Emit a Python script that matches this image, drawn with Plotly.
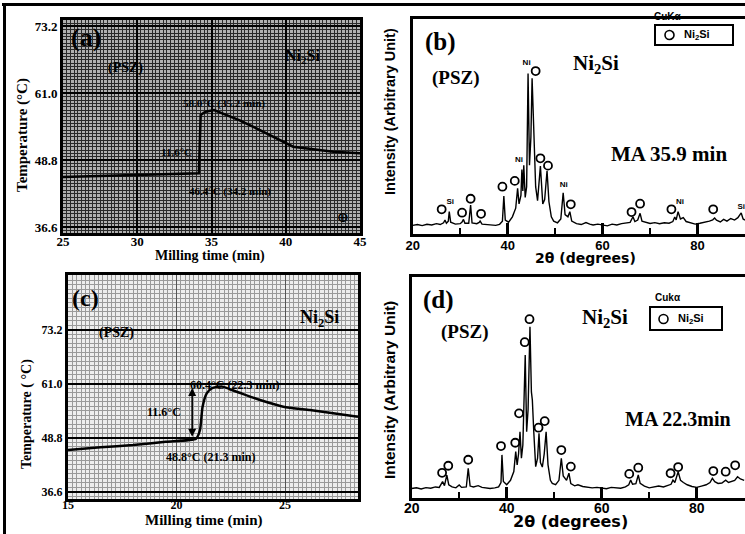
import plotly.graph_objects as go

# ---------------- data ----------------
# (a) temperature trace, PSZ run
a_time = [25.0, 27.5, 30.0, 32.0, 34.15, 34.27, 34.6, 35.17, 36.86, 38.7, 40.5, 43.2, 45.0]
a_temp = [45.74, 45.92, 46.1, 46.25, 46.41, 57.04, 57.64, 57.95, 56.13, 53.71, 51.26, 50.35, 50.06]

# (c) temperature trace
c_time = [15.0, 16.5, 18.0, 19.5, 20.9, 21.08, 21.2, 21.39, 21.62, 22.1, 22.77, 23.85, 24.92, 26.15, 27.3, 28.36]
c_temp = [46.03, 46.64, 47.16, 47.9, 48.6, 50.55, 55.8, 58.84, 59.97, 60.35, 59.2, 57.33, 55.82, 55.07, 54.3, 53.56]

temp_ticks = [36.6, 48.8, 61.0, 73.2]
a_time_ticks = [25, 30, 35, 40, 45]
c_time_ticks = [15, 20, 25]

# (b) XRD pattern, MA 35.9 min
b_two_theta = [20.0, 21.0, 22.0, 23.0, 24.0, 25.0, 25.8, 26.5, 26.8, 27.1, 27.5, 27.7, 28.0, 29.0, 30.0,
               30.4, 30.7, 31.0, 31.8, 32.2, 32.5, 33.5, 34.0, 34.2, 34.6, 35.5, 36.5, 37.5, 38.3, 38.9,
               39.2, 39.5, 40.2, 41.0, 41.7, 42.1, 42.4, 42.8, 43.0, 43.2, 43.4, 43.7, 44.0, 44.3, 44.6,
               44.9, 45.15, 45.4, 45.6, 45.9, 46.3, 46.9, 47.4, 47.8, 48.3, 48.7, 49.2, 49.7, 50.5, 51.2,
               51.7, 52.1, 52.7, 53.1, 53.5, 54.5, 55.5, 56.5, 57.3, 58.0, 59.0, 60.0, 61.0, 62.0, 63.0,
               64.0, 65.0, 65.8, 66.4, 66.8, 67.4, 67.9, 68.3, 69.0, 70.0, 71.0, 72.0, 73.0, 74.0, 74.8,
               75.2, 75.5, 75.9, 76.4, 77.0, 77.6, 78.5, 79.5, 80.5, 81.5, 82.5, 83.2, 83.6, 84.0, 84.8,
               85.5, 86.2, 87.0, 87.8, 88.5, 89.2, 89.6, 90.0]
b_intensity = [4.0, 4.4, 3.9, 4.5, 4.2, 4.8, 4.4, 5.2, 6.5, 5.0, 6.0, 10.4, 5.5, 4.6, 4.8,
               5.6, 6.8, 5.0, 5.0, 13.5, 5.2, 4.8, 5.4, 6.0, 4.6, 4.4, 4.2, 4.0, 4.5, 6.0,
               17.7, 6.5, 5.5, 8.0, 12.0, 21.3, 14.0, 18.0, 30.0, 20.0, 32.0, 17.0, 22.0, 74.7, 32.0,
               45.0, 72.4, 52.0, 45.0, 22.0, 15.5, 31.6, 14.0, 16.0, 29.4, 15.0, 8.0, 6.0, 5.2, 7.0,
               19.2, 9.0, 8.0, 10.4, 6.0, 4.8, 4.4, 5.3, 4.6, 4.2, 4.6, 4.3, 3.8, 4.6, 4.2,
               4.8, 5.0, 5.4, 8.0, 5.8, 6.5, 9.6, 6.0, 5.4, 4.9, 5.3, 4.8, 5.2, 5.0, 5.8,
               7.9, 6.6, 10.4, 7.0, 7.6, 5.8, 5.2, 4.6, 5.0, 5.4, 6.0, 6.6, 7.4, 6.4, 5.6,
               6.8, 6.0, 7.2, 6.5, 7.6, 9.8, 7.0, 6.5]
b_ring_x = [26.1, 30.4, 32.2, 34.4, 38.9, 41.5, 45.9, 46.9, 48.5, 53.3, 66.1, 67.9, 74.5, 83.3]
b_ring_y = [11.5, 9.9, 16.4, 9.4, 22.0, 24.7, 75.8, 35.2, 31.8, 13.8, 10.2, 14.1, 11.5, 11.5]
b_phase_x = [27.9, 42.4, 44.0, 51.8, 76.3, 89.2]
b_phase_y = [15.0, 34.4, 79.7, 22.8, 14.9, 12.7]
b_phase_lbl = ["Si", "Ni", "Ni", "Ni", "Ni", "Si"]

# (d) XRD pattern, MA 22.3 min
d_two_theta = [20.0, 21.0, 22.0, 23.0, 24.0, 25.0, 25.8, 26.5, 26.9, 27.4, 27.8, 28.5, 29.3, 30.0, 30.5,
               31.5, 31.9, 32.3, 33.0, 34.0, 34.8, 35.5, 36.5, 37.5, 38.3, 38.8, 39.0, 39.3, 40.0, 40.8,
               41.5, 41.9, 42.2, 42.5, 42.8, 43.1, 43.4, 43.9, 44.2, 44.5, 44.9, 45.2, 45.4, 45.7, 46.1,
               46.5, 46.8, 47.1, 47.5, 47.9, 48.3, 48.7, 49.2, 49.6, 50.3, 51.0, 51.5, 51.9, 52.6, 53.1,
               53.5, 54.3, 55.0, 56.0, 57.0, 58.0, 59.0, 60.0, 61.0, 62.0, 63.0, 64.0, 65.0, 65.7, 66.1,
               66.5, 67.2, 67.7, 68.1, 69.0, 70.0, 71.0, 72.0, 73.0, 74.0, 74.6, 75.0, 75.4, 76.1, 76.6,
               77.2, 78.0, 79.0, 80.0, 81.0, 82.0, 82.8, 83.3, 83.8, 84.5, 85.3, 86.1, 86.7, 87.4, 88.0,
               88.6, 89.2, 90.0]
d_intensity = [4.3, 4.6, 4.1, 4.7, 4.4, 5.0, 4.8, 7.4, 5.6, 10.4, 6.0, 5.0, 4.6, 5.9, 4.8,
               5.0, 13.4, 5.4, 5.0, 5.6, 4.8, 4.6, 4.3, 4.6, 5.0, 7.0, 19.5, 7.5, 6.0, 8.0,
               12.0, 21.0, 15.0, 20.0, 30.0, 18.0, 24.0, 64.7, 30.0, 40.0, 77.5, 48.0, 44.3, 30.0, 14.2,
               18.0, 29.3, 16.0, 14.0, 20.0, 30.0, 15.0, 8.0, 6.6, 6.0, 8.0, 18.0, 10.0, 8.0, 11.2,
               6.5, 5.5, 6.0, 5.2, 5.0, 4.6, 4.8, 4.4, 4.2, 4.8, 4.6, 4.4, 5.0, 6.0, 8.1,
               6.2, 6.5, 10.4, 6.6, 5.4, 4.6, 5.0, 5.4, 5.0, 5.6, 6.2, 8.1, 7.0, 11.9, 8.0,
               7.0, 6.0, 5.2, 4.8, 5.4, 6.0, 7.0, 8.9, 7.4, 6.6, 6.8, 8.1, 7.0, 7.6, 8.0,
               9.6, 8.6, 8.0]
d_ring_x = [26.4, 27.7, 31.9, 38.8, 41.8, 42.6, 43.8, 44.8, 46.7, 48.0, 51.5, 53.5, 65.8, 67.7, 74.5, 76.1, 83.5, 86.1, 88.1]
d_ring_y = [11.4, 14.6, 17.3, 23.5, 25.0, 38.3, 70.5, 80.9, 31.8, 34.8, 21.7, 14.2, 10.9, 13.7, 11.2, 14.0, 12.2, 11.9, 14.8]

# ---------------- helpers ----------------
W, H = 745, 534
def fx(x):
    return x / W
def fy(y):
    return 1 - y / H

SERIF = "Liberation Serif"
SANS = "Liberation Sans"
WIDE = "DejaVu Sans"

fig = go.Figure()

fig.add_trace(go.Scatter(x=a_time, y=a_temp, mode="lines", line=dict(color="black", width=2.5),
                         xaxis="x", yaxis="y", hoverinfo="skip"))
fig.add_trace(go.Scatter(x=c_time, y=c_temp, mode="lines", line=dict(color="black", width=2.5, shape="spline", smoothing=0.6),
                         xaxis="x3", yaxis="y3", hoverinfo="skip"))

fig.add_trace(go.Scatter(x=b_two_theta, y=b_intensity, mode="lines", line=dict(color="black", width=1.4),
                         xaxis="x2", yaxis="y2"))
fig.add_trace(go.Scatter(x=b_ring_x, y=b_ring_y, mode="markers",
                         marker=dict(symbol="circle-open", size=8, color="black", line=dict(width=1.8)),
                         xaxis="x2", yaxis="y2"))
fig.add_trace(go.Scatter(x=b_phase_x, y=b_phase_y, mode="text", text=b_phase_lbl,
                         textfont=dict(family=SANS, size=8, color="black", weight="bold"),
                         xaxis="x2", yaxis="y2"))

fig.add_trace(go.Scatter(x=d_two_theta, y=d_intensity, mode="lines", line=dict(color="black", width=1.4),
                         xaxis="x4", yaxis="y4"))
fig.add_trace(go.Scatter(x=d_ring_x, y=d_ring_y, mode="markers",
                         marker=dict(symbol="circle-open", size=8, color="black", line=dict(width=1.8)),
                         xaxis="x4", yaxis="y4"))

serif_tick = dict(family=SERIF, size=13, color="black", weight="bold")
sans_tick = dict(family=SANS, size=13, color="black", weight="bold")

frame = dict(showline=True, mirror=True, linecolor="black", linewidth=3, zeroline=False, automargin=False)

layout = dict(
    template="none",
    width=W, height=H, margin=dict(l=0, r=0, t=0, b=0, pad=0), autosize=False,
    paper_bgcolor="white", plot_bgcolor="white", showlegend=False,
    # (a)
    xaxis=dict(domain=[fx(63), fx(360)], range=[25, 45], anchor="y", tickvals=a_time_ticks,
               ticks="", tickfont=serif_tick, ticklabelstandoff=-6,
               showgrid=True, gridcolor="black", gridwidth=2,
               minor=dict(tick0=25, dtick=0.25, showgrid=True, gridcolor="#2a2a2a", gridwidth=1), **frame),
    yaxis=dict(domain=[fy(233), fy(20)], range=[35.53, 74.37], anchor="x", tickvals=temp_ticks,
               tickformat=".1f", ticks="", tickfont=serif_tick, ticklabelstandoff=0,
               showgrid=True, gridcolor="black", gridwidth=2,
               minor=dict(tick0=36.6, dtick=0.61, showgrid=True, gridcolor="#2a2a2a", gridwidth=1), **frame),
    # (b)
    xaxis2=dict(domain=[fx(412.7), 1.0], range=[20, 90], anchor="y2", tick0=20, dtick=20,
                ticks="inside", ticklen=11, tickwidth=3, tickcolor="black",
                minor=dict(tick0=20, dtick=10, ticks="inside", ticklen=6, tickwidth=2, tickcolor="black"),
                tickfont=sans_tick, ticklabelstandoff=-3, showgrid=False, **frame),
    yaxis2=dict(domain=[fy(234), fy(19)], range=[0, 100], anchor="x2", showticklabels=False,
                ticks="", showgrid=False, **frame),
    # (c)
    xaxis3=dict(domain=[fx(68), fx(358)], range=[15, 28.36], anchor="y3", tickvals=c_time_ticks,
                ticks="", tickfont=dict(family=SERIF, size=12, color="black", weight="bold"), ticklabelstandoff=-7,
                showgrid=True, gridcolor="#555555", gridwidth=1,
                minor=dict(tick0=15, dtick=0.2, showgrid=True, gridcolor="#9a9a9a", gridwidth=1), **frame),
    yaxis3=dict(domain=[fy(499), fy(275)], range=[34.96, 85.57], anchor="x3", tickvals=temp_ticks,
                tickformat=".1f", ticks="", tickfont=dict(family=SERIF, size=12, color="black", weight="bold"),
                ticklabelstandoff=0, showgrid=True, gridcolor="black", gridwidth=2,
                minor=dict(tick0=36.6, dtick=1.0167, showgrid=True, gridcolor="#9a9a9a", gridwidth=1), **frame),
    # (d)
    xaxis4=dict(domain=[fx(411.7), 1.0], range=[20, 90.17], anchor="y4", tick0=20, dtick=20,
                ticks="inside", ticklen=11, tickwidth=3, tickcolor="black",
                minor=dict(tick0=20, dtick=10, ticks="inside", ticklen=6, tickwidth=2, tickcolor="black"),
                tickfont=dict(family=SANS, size=14, color="black", weight="bold"), ticklabelstandoff=-5,
                showgrid=False, **frame),
    yaxis4=dict(domain=[fy(498), fy(277)], range=[0, 100], anchor="x4", showticklabels=False,
                ticks="", showgrid=False, **frame),
)
fig.update_layout(**layout)

shapes = [
    # graph-paper backgrounds
    dict(type="rect", xref="x domain", yref="y domain", x0=0, x1=1, y0=0, y1=1,
         fillcolor="#b0b0b0", line=dict(width=0), layer="below"),
    dict(type="rect", xref="x3 domain", yref="y3 domain", x0=0, x1=1, y0=0, y1=1,
         fillcolor="#eeeeee", line=dict(width=0), layer="below"),
    # legend boxes
    dict(type="rect", xref="paper", yref="paper", x0=fx(655), x1=fx(733), y0=fy(45), y1=fy(25),
         line=dict(color="black", width=2), fillcolor="white"),
    dict(type="circle", xref="paper", yref="paper", x0=fx(665), x1=fx(674), y0=fy(39.5), y1=fy(30.5),
         line=dict(color="black", width=1.6)),
    dict(type="rect", xref="paper", yref="paper", x0=fx(650), x1=fx(722), y0=fy(330), y1=fy(307),
         line=dict(color="black", width=2), fillcolor="white"),
    dict(type="circle", xref="paper", yref="paper", x0=fx(659), x1=fx(668), y0=fy(323.5), y1=fy(314.5),
         line=dict(color="black", width=1.6)),
]
fig.update_layout(shapes=shapes)

def txt(x, y, s, size, family=SERIF, angle=0, color="black"):
    return dict(x=fx(x), y=fy(y), xref="paper", yref="paper", text="<b>" + s + "</b>", showarrow=False,
                font=dict(family=family, size=size, color=color), textangle=angle,
                xanchor="center", yanchor="middle")

# page border drawn as solid annotation boxes (top and left edges)
def bar(x0, y0, w, h):
    return dict(x=fx(x0), y=fy(y0), xref="paper", yref="paper", text=" ", showarrow=False,
                xanchor="left", yanchor="top", width=w, height=h, bgcolor="black",
                borderpad=0, borderwidth=0, font=dict(size=1))

ann = [
    bar(2, 3, 743, 3),
    bar(3, 3, 3, 531),
    # (a)
    txt(86, 38, "(a)", 26),
    txt(125, 68, "(PSZ)", 14),
    txt(302, 56, "Ni<sub>2</sub>Si", 16),
    txt(224, 103, "58.0°C (35.2 min)", 11),
    txt(176, 152, "11.6°C", 11),
    txt(230, 191, "46.4°C (34.2 min)", 11),
    txt(343, 217, "⊕", 14, family="DejaVu Sans"),
    txt(22, 135, "Temperature (°C)", 15, angle=-90),
    txt(210, 256, "Milling time (min)", 14),
    # (c)
    txt(85, 298, "(c)", 24),
    txt(116, 333, "(PSZ)", 14),
    txt(319, 318, "Ni<sub>2</sub>Si", 18),
    txt(234, 385, "60.4°C (22.3 min)", 12),
    txt(164, 412, "11.6°C", 12),
    txt(210, 457, "48.8°C (21.3 min)", 12),
    txt(27, 414, "Temperature ( °C)", 14, angle=-90),
    txt(203, 520, "Milling time (min)", 15),
    # (b)
    txt(440, 42, "(b)", 25),
    txt(456, 78, "(PSZ)", 19),
    txt(596, 64, "Ni<sub>2</sub>Si", 21),
    txt(669, 154, "MA 35.9 min", 21),
    txt(668, 17, "CuKα", 10, family=SANS),
    txt(697, 35, "Ni<sub>2</sub>Si", 11, family=SANS),
    txt(390, 112, "Intensity (Arbitrary Unit)", 14.5, family=SANS, angle=-90),
    txt(585, 258, "2θ (degrees)", 14, family=WIDE),
    # (d)
    txt(439, 300, "(d)", 25),
    txt(465, 332, "(PSZ)", 19),
    txt(605, 318, "Ni<sub>2</sub>Si", 21),
    txt(678, 419, "MA 22.3min", 20),
    txt(668, 297.5, "Cukα", 10, family=SANS),
    txt(691, 319, "Ni<sub>2</sub>Si", 11, family=SANS),
    txt(389, 390, "Intensity (Arbitrary Unit)", 15.5, family=SANS, angle=-90),
    txt(570, 521, "2θ (degrees)", 16, family=WIDE),
    # arrow in (c)
    dict(x=20.72, y=49.0, ax=20.72, ay=60.4, xref="x3", yref="y3", axref="x3", ayref="y3",
         showarrow=True, arrowhead=2, arrowsize=1, arrowwidth=1.6, arrowcolor="black",
         arrowside="end+start", startarrowhead=2, text=""),
]
fig.update_layout(annotations=ann)

fig.write_html("out.html", config={"displayModeBar": False, "staticPlot": True},
               post_script="document.body.style.margin='0';document.body.style.overflow='hidden';")
